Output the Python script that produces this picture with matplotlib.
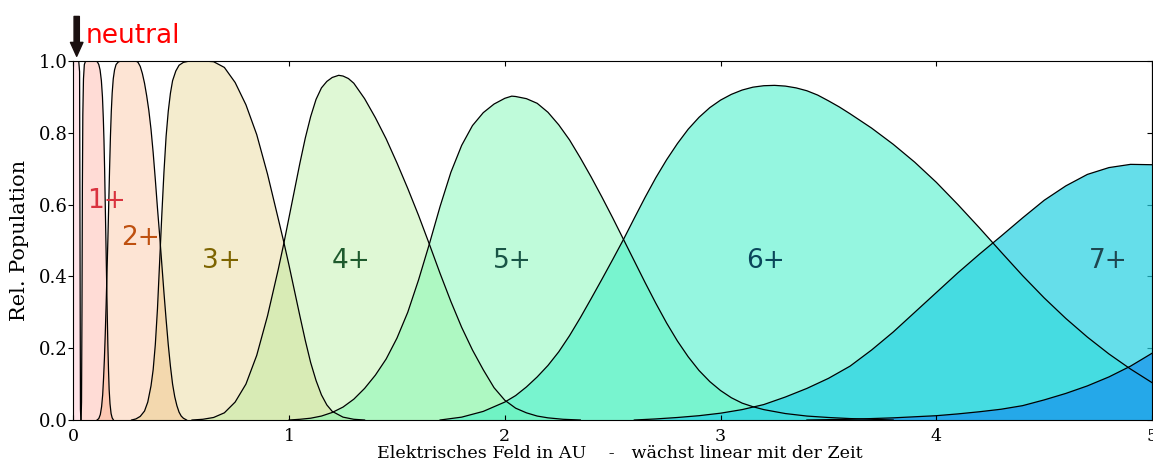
import matplotlib
matplotlib.use('Agg')
import matplotlib.pyplot as plt
from matplotlib.colors import to_rgba
from matplotlib.ticker import FormatStrFormatter

# Relative Populationen der Ladungszustaende ueber dem elektrischen Feld (AU)
field_0 = [0.0, 0.025, 0.029, 0.031, 0.033, 0.035]
pop_0 = [1.0, 1.0, 0.97, 0.5, 0.03, 0.0]

field_1 = [0.036, 0.038, 0.040, 0.042, 0.044, 0.047, 0.051, 0.057, 0.105, 0.112, 0.118,
           0.124, 0.130, 0.135, 0.139, 0.142, 0.145, 0.148, 0.151, 0.154, 0.157, 0.160,
           0.163, 0.166, 0.170, 0.175, 0.180, 0.186]
pop_1 = [0.0, 0.05, 0.3, 0.65, 0.85, 0.95, 0.99, 1.0, 1.0, 0.997, 0.99,
         0.975, 0.945, 0.90, 0.84, 0.78, 0.70, 0.60, 0.50, 0.40, 0.30, 0.21,
         0.14, 0.085, 0.045, 0.018, 0.006, 0.0]

field_2 = [0.110, 0.118, 0.125, 0.131, 0.136, 0.140, 0.144, 0.148, 0.152, 0.156, 0.160,
           0.164, 0.168, 0.172, 0.176, 0.180, 0.185, 0.191, 0.198, 0.208, 0.220, 0.290,
           0.300, 0.310, 0.320, 0.330, 0.340, 0.350, 0.360, 0.370, 0.380, 0.390, 0.400,
           0.410, 0.420, 0.430, 0.440, 0.450, 0.460, 0.470, 0.480, 0.490, 0.500, 0.510,
           0.525]
pop_2 = [0.0, 0.004, 0.015, 0.037, 0.07, 0.115, 0.17, 0.24, 0.32, 0.41, 0.50,
         0.60, 0.70, 0.79, 0.86, 0.91, 0.95, 0.975, 0.99, 0.997, 1.0, 1.0,
         0.996, 0.985, 0.965, 0.938, 0.903, 0.862, 0.81, 0.745, 0.67, 0.59, 0.515,
         0.435, 0.355, 0.28, 0.21, 0.15, 0.10, 0.065, 0.04, 0.022, 0.011, 0.005,
         0.0]

field_3 = [0.27, 0.29, 0.31, 0.33, 0.345, 0.36, 0.37, 0.38, 0.39, 0.40, 0.41,
           0.42, 0.43, 0.44, 0.45, 0.46, 0.475, 0.49, 0.51, 0.54, 0.60, 0.65,
           0.70, 0.75, 0.80, 0.85, 0.90, 0.95, 0.975, 1.00, 1.025, 1.05, 1.075,
           1.10, 1.125, 1.15, 1.175, 1.20, 1.25, 1.30, 1.35]
pop_3 = [0.0, 0.003, 0.01, 0.025, 0.05, 0.095, 0.14, 0.21, 0.31, 0.44, 0.57,
         0.69, 0.79, 0.86, 0.91, 0.945, 0.972, 0.988, 0.996, 1.0, 1.0, 0.998,
         0.982, 0.94, 0.878, 0.795, 0.685, 0.56, 0.497, 0.43, 0.36, 0.29, 0.222,
         0.16, 0.11, 0.07, 0.042, 0.024, 0.008, 0.002, 0.0]

field_4 = [0.55, 0.60, 0.65, 0.70, 0.75, 0.80, 0.85, 0.90, 0.95, 0.975, 1.00,
           1.025, 1.05, 1.075, 1.10, 1.125, 1.15, 1.175, 1.20, 1.23, 1.25, 1.275,
           1.30, 1.35, 1.40, 1.45, 1.50, 1.55, 1.60, 1.65, 1.70, 1.75, 1.80,
           1.85, 1.90, 1.95, 2.00, 2.05, 2.10, 2.15, 2.20, 2.27, 2.35]
pop_4 = [0.0, 0.002, 0.007, 0.020, 0.050, 0.100, 0.180, 0.290, 0.420, 0.49, 0.565,
         0.64, 0.715, 0.785, 0.845, 0.893, 0.925, 0.943, 0.954, 0.960, 0.958, 0.951,
         0.938, 0.895, 0.842, 0.783, 0.716, 0.645, 0.57, 0.49, 0.408, 0.33, 0.258,
         0.195, 0.14, 0.09, 0.055, 0.033, 0.02, 0.011, 0.006, 0.002, 0.0]

field_5 = [1.00, 1.05, 1.10, 1.15, 1.20, 1.25, 1.30, 1.35, 1.40, 1.45, 1.50,
           1.55, 1.60, 1.65, 1.70, 1.75, 1.80, 1.85, 1.90, 1.95, 2.00, 2.032,
           2.05, 2.10, 2.15, 2.20, 2.25, 2.30, 2.35, 2.40, 2.45, 2.50, 2.55,
           2.60, 2.65, 2.70, 2.75, 2.80, 2.85, 2.90, 2.95, 3.00, 3.05, 3.10,
           3.15, 3.20, 3.30, 3.40, 3.50, 3.60, 3.80]
pop_5 = [0.0, 0.002, 0.005, 0.011, 0.021, 0.036, 0.058, 0.088, 0.125, 0.170, 0.228,
         0.30, 0.39, 0.49, 0.595, 0.69, 0.765, 0.82, 0.856, 0.88, 0.896, 0.902,
         0.901, 0.895, 0.882, 0.857, 0.822, 0.78, 0.73, 0.677, 0.621, 0.563, 0.503,
         0.443, 0.383, 0.325, 0.270, 0.220, 0.176, 0.138, 0.107, 0.082, 0.062, 0.047,
         0.037, 0.029, 0.018, 0.011, 0.007, 0.004, 0.0]

field_6 = [1.70, 1.80, 1.90, 2.00, 2.05, 2.10, 2.15, 2.20, 2.25, 2.30, 2.35,
           2.40, 2.45, 2.50, 2.55, 2.60, 2.65, 2.70, 2.75, 2.80, 2.85, 2.90,
           2.95, 3.00, 3.05, 3.10, 3.15, 3.20, 3.25, 3.30, 3.35, 3.40, 3.45,
           3.50, 3.55, 3.60, 3.70, 3.80, 3.90, 4.00, 4.10, 4.20, 4.30, 4.40,
           4.50, 4.60, 4.70, 4.80, 4.90, 5.00]
pop_6 = [0.0, 0.008, 0.024, 0.050, 0.068, 0.092, 0.12, 0.152, 0.190, 0.235, 0.285,
         0.338, 0.392, 0.447, 0.503, 0.562, 0.62, 0.675, 0.725, 0.77, 0.81, 0.843,
         0.87, 0.891, 0.907, 0.919, 0.927, 0.931, 0.932, 0.930, 0.925, 0.917, 0.905,
         0.889, 0.872, 0.853, 0.813, 0.768, 0.718, 0.662, 0.60, 0.535, 0.468, 0.402,
         0.34, 0.283, 0.231, 0.184, 0.142, 0.104]

field_7 = [2.60, 2.70, 2.80, 2.90, 3.00, 3.10, 3.20, 3.30, 3.40, 3.50, 3.60,
           3.70, 3.80, 3.90, 4.00, 4.10, 4.20, 4.30, 4.40, 4.50, 4.60, 4.70,
           4.80, 4.90, 5.00]
pop_7 = [0.0, 0.003, 0.007, 0.012, 0.019, 0.029, 0.043, 0.064, 0.088, 0.116, 0.150,
         0.195, 0.245, 0.300, 0.355, 0.410, 0.462, 0.512, 0.563, 0.612, 0.652, 0.684,
         0.703, 0.712, 0.711]

field_8 = [3.40, 3.60, 3.80, 4.00, 4.10, 4.20, 4.30, 4.40, 4.50, 4.60, 4.70,
           4.80, 4.90, 5.00]
pop_8 = [0.0, 0.002, 0.006, 0.012, 0.017, 0.023, 0.030, 0.040, 0.056, 0.074, 0.095,
         0.12, 0.15, 0.186]

charge_labels = ['1+', '2+', '3+', '4+', '5+', '6+', '7+']

curves = [(field_0, pop_0), (field_1, pop_1), (field_2, pop_2), (field_3, pop_3),
          (field_4, pop_4), (field_5, pop_5), (field_6, pop_6), (field_7, pop_7),
          (field_8, pop_8)]
fill_colors = ['#ff788c', '#ff5032', '#f57828', '#d7b73f', '#a4eb87',
               '#73f8ad', '#3eefc7', '#24d1e2', '#1e9bec']
fill_alpha = [0.2, 0.2, 0.2, 0.25, 0.35, 0.45, 0.55, 0.7, 0.8]

label_colors = ['#d9333f', '#be5010', '#7d6400', '#1e5a2d', '#195546', '#0a465a', '#1e4650']
label_pos = [(0.152, 0.590), (0.311, 0.487), (0.688, 0.422), (1.289, 0.422),
             (2.036, 0.422), (3.209, 0.422), (4.797, 0.422)]

fig = plt.figure(figsize=(11.53, 4.66), dpi=100)
ax = fig.add_axes([0.0636, 0.0987, 0.9356, 0.7705])

# erst alle Flaechen, dann die Konturen obendrauf
for (x, y), c, a in zip(curves, fill_colors, fill_alpha):
    ax.fill_between(x, y, 0, facecolor=to_rgba(c, a), edgecolor='none', linewidth=0)
for x, y in curves:
    ax.plot(x, y, color='black', linewidth=0.9, zorder=3)

for txt, (lx, ly), c in zip(charge_labels, label_pos, label_colors):
    ax.text(lx, ly, txt, color=c, fontsize=19, ha='center', va='baseline',
            family='DejaVu Sans', zorder=4)

# Pfeil auf den neutralen Anteil
ax.annotate('', xy=(0.0156, 1.013), xytext=(0.0156, 1.124),
            arrowprops=dict(facecolor='#1a0f0f', edgecolor='#1a0f0f', width=3.8,
                            headwidth=9, headlength=10, shrink=0),
            annotation_clip=False)
ax.text(0.059, 1.049, 'neutral', color='#ff0000', fontsize=19, family='DejaVu Sans',
        ha='left', va='baseline', clip_on=False)

ax.set_xlim(0, 5)
ax.set_ylim(0, 1)
ax.set_xticks([0, 1, 2, 3, 4, 5])
ax.set_yticks([0.0, 0.2, 0.4, 0.6, 0.8, 1.0])
ax.yaxis.set_major_formatter(FormatStrFormatter('%.1f'))
ax.tick_params(axis='x', direction='in', top=True, length=3.6, pad=6, labelsize=12.5)
ax.tick_params(axis='y', direction='out', right=False, length=3.6, pad=0.5, labelsize=13)
for lab in ax.get_xticklabels() + ax.get_yticklabels():
    lab.set_family('DejaVu Serif')

sec = ax.secondary_yaxis('right')
sec.set_yticks([0.0, 0.2, 0.4, 0.6, 0.8, 1.0])
sec.tick_params(direction='in', length=3.6, labelright=False)

ax.set_xlabel('Elektrisches Feld in AU    -   wächst linear mit der Zeit',
              fontsize=12.6, family='DejaVu Serif', va='baseline')
ax.xaxis.set_label_coords(0.507, -0.106)
ax.set_ylabel('Rel. Population', fontsize=15, family='DejaVu Serif', labelpad=7)

fig.savefig('out.png', dpi=100)
